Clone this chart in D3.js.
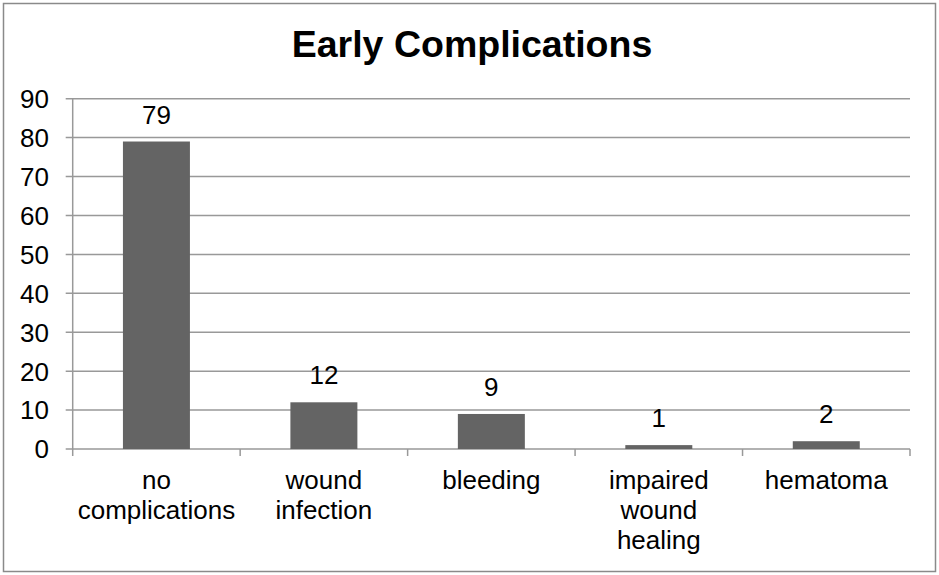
<!DOCTYPE html>
<html>
<head>
<meta charset="utf-8">
<script src="https://cdn.jsdelivr.net/npm/d3@7"></script>
<style>
  body { margin: 0; background: #fff; }
  text { font-family: "Liberation Sans", Arial, sans-serif; fill: #000; }
</style>
</head>
<body>
<div id="chart"></div>
<script>
// data
const categories = ["no complications", "wound infection", "bleeding", "impaired wound healing", "hematoma"];
const values = [79, 12, 9, 1, 2];
const yTicks = [0, 10, 20, 30, 40, 50, 60, 70, 80, 90];
const title = "Early Complications";

const width = 939, height = 575;
const margin = { left: 72.7, right: 29, top: 98.7, bottom: 126 };
const colors = { bar: "#646464", grid: "#999999", border: "#8a8a8a" };
const fontSize = "26px";

const svg = d3.select("#chart")
    .append("svg")
    .attr("width", width)
    .attr("height", height);

// outer frame
svg.append("rect")
    .attr("x", 3.5).attr("y", 3.5)
    .attr("width", width - 7).attr("height", height - 7)
    .attr("fill", "none")
    .attr("stroke", colors.border)
    .attr("stroke-width", 1.5);

svg.append("text")
    .attr("x", 472).attr("y", 57)
    .attr("text-anchor", "middle")
    .style("font-size", "37.5px")
    .style("font-weight", "bold")
    .text(title);

const x = d3.scaleBand()
    .domain(categories)
    .range([margin.left, width - margin.right])
    .paddingInner(0.6)
    .paddingOuter(0.3);

const y = d3.scaleLinear()
    .domain([0, 90])
    .range([height - margin.bottom, margin.top]);

// gridlines + y ticks
svg.append("g")
    .selectAll("line")
    .data(yTicks)
    .join("line")
    .attr("x1", margin.left - 7)
    .attr("x2", width - margin.right)
    .attr("y1", d => y(d))
    .attr("y2", d => y(d))
    .attr("stroke", colors.grid)
    .attr("stroke-width", 1.5);

svg.append("g")
    .selectAll("text")
    .data(yTicks)
    .join("text")
    .attr("x", 49)
    .attr("y", d => y(d))
    .attr("dy", "0.36em")
    .attr("text-anchor", "end")
    .style("font-size", fontSize)
    .text(d => d);

// y axis line
svg.append("line")
    .attr("x1", margin.left).attr("x2", margin.left)
    .attr("y1", y(90)).attr("y2", y(0))
    .attr("stroke", colors.grid)
    .attr("stroke-width", 1.5);

// x tick marks at category boundaries
const step = x.step();
const bounds = d3.range(categories.length + 1).map(i => margin.left + i * step);
svg.append("g")
    .selectAll("line")
    .data(bounds)
    .join("line")
    .attr("x1", d => d).attr("x2", d => d)
    .attr("y1", y(0)).attr("y2", y(0) + 7)
    .attr("stroke", colors.grid)
    .attr("stroke-width", 1.5);

// bars
svg.append("g")
    .selectAll("rect")
    .data(values)
    .join("rect")
    .attr("x", (d, i) => x(categories[i]))
    .attr("y", d => y(d))
    .attr("width", x.bandwidth())
    .attr("height", d => y(0) - y(d))
    .attr("fill", colors.bar);

// value labels
svg.append("g")
    .selectAll("text")
    .data(values)
    .join("text")
    .attr("x", (d, i) => x(categories[i]) + x.bandwidth() / 2)
    .attr("y", d => y(d) - 18)
    .attr("text-anchor", "middle")
    .style("font-size", fontSize)
    .text(d => d);

// category labels, wrapped
const wrapWidth = step * 0.9;
const catG = svg.append("g");
categories.forEach((c, i) => {
    const cx = x(c) + x.bandwidth() / 2;
    const t = catG.append("text")
        .attr("text-anchor", "middle")
        .style("font-size", fontSize);
    const words = c.split(" ");
    let lines = [], line = [];
    const probe = t.append("tspan");
    words.forEach(w => {
        const test = line.concat(w).join(" ");
        probe.text(test);
        if (probe.node().getComputedTextLength() > wrapWidth && line.length) {
            lines.push(line.join(" "));
            line = [w];
        } else {
            line.push(w);
        }
    });
    lines.push(line.join(" "));
    probe.remove();
    lines.forEach((l, k) => {
        t.append("tspan")
            .attr("x", cx)
            .attr("y", 489 + k * 30)
            .text(l);
    });
});
</script>
</body>
</html>
